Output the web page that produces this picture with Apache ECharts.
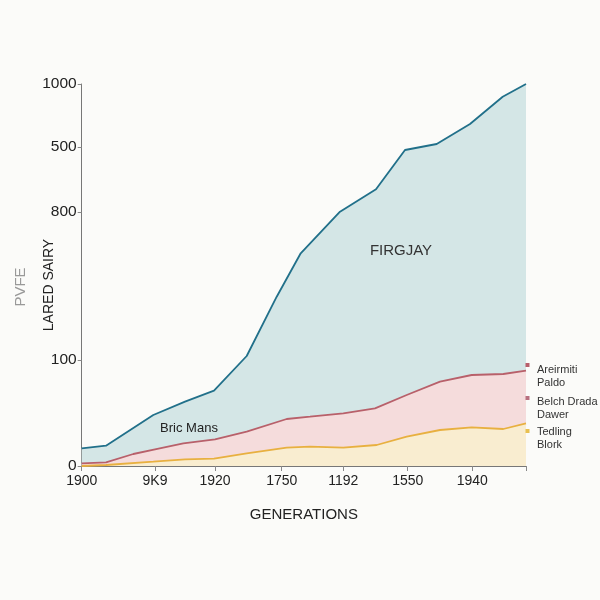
<!DOCTYPE html>
<html>
<head>
<meta charset="utf-8">
<script src="https://cdn.jsdelivr.net/npm/echarts@6/dist/echarts.min.js"></script>
<style>html,body{margin:0;padding:0;background:#fbfbf9;}#c{width:600px;height:600px;}</style>
</head>
<body>
<div id="c"></div>
<script>
// x positions (axis units) and tick labels
const xTickPos = [0, 73.3, 133.3, 200, 261.6, 326, 390.6, 444.3];
const xTickLabels = ['1900', '9K9', '1920', '1750', '1192', '1550', '1940', ''];
const yTickPos = [0, 106, 254, 319, 382];
const yTickLabels = ['0', '100', '800', '500', '1000'];

const firgjay = [[0,17.7],[24.3,20.3],[71.6,51],[103.3,64.3],[132.3,75.3],[165,110],[195,169.3],[219,212.7],[258.3,254.3],[294.3,276.7],[323.3,316],[355,322],[388.3,342],[421,369.3],[444.3,382]];
const bricMans = [[0,2.7],[24.3,3.7],[51.6,12],[73.3,16.7],[101.6,22.7],[133.3,26.7],[165,34.3],[205,47],[228.3,49.3],[261.6,52.7],[293.3,57.7],[325,71],[358.3,84.3],[390,91],[421.6,92],[444.3,95.3]];
const tedling = [[0,0],[24.3,1],[71.6,4.3],[103.3,6.7],[132.3,7.3],[165,12.7],[205,18.3],[228.3,19.3],[261.6,18.3],[295,21],[325,29.3],[358.3,36],[390,38.7],[421.6,37],[444.3,42.7]];

const legendNames = ['Areirmiti\nPaldo', 'Belch Drada\nDawer', 'Tedling\nBlork'];
const legendColors = ['#b85f6b', '#b87080', '#e8c050'];

const chart = echarts.init(document.getElementById('c'));
function mkSeries(name, data, line, fill) {
  return {
    type: 'line', name: name, data: data, symbol: 'none', smooth: false,
    lineStyle: {color: line, width: 1.8}, itemStyle: {color: line},
    areaStyle: {color: fill, opacity: 1}, z: 2
  };
}
chart.setOption({
  backgroundColor: '#fbfbf9',
  animation: false,
  grid: {left: 81.7, right: 74, top: 84, bottom: 134},
  xAxis: {
    type: 'value', min: 0, max: 444.3,
    axisLine: {show: true, lineStyle: {color: '#777', width: 1}},
    axisTick: {show: true, customValues: xTickPos, length: 5, lineStyle: {color: '#888'}},
    axisLabel: {customValues: xTickPos, color: '#222', fontSize: 14, margin: 8,
      fontFamily: 'Liberation Sans, Arial',
      formatter: function (v) { const i = xTickPos.indexOf(v); return i >= 0 ? xTickLabels[i] : ''; }},
    splitLine: {show: false},
    name: 'GENERATIONS', nameLocation: 'middle', nameGap: 41, nameMoveOverlap: false,
    nameTextStyle: {color: '#222', fontSize: 15, fontFamily: 'Liberation Sans, Arial'}
  },
  yAxis: {
    type: 'value', min: 0, max: 382,
    axisLine: {show: true, lineStyle: {color: '#777', width: 1}},
    axisTick: {show: true, customValues: yTickPos, length: 4, lineStyle: {color: '#888'}},
    axisLabel: {customValues: yTickPos, color: '#222', fontSize: 15.5, margin: 5,
      fontFamily: 'Liberation Sans, Arial',
      formatter: function (v) { const i = yTickPos.indexOf(v); return i >= 0 ? yTickLabels[i] : ''; }},
    splitLine: {show: false},
    name: 'LARED SAIRY', nameLocation: 'middle', nameGap: 26, nameRotate: 90, nameMoveOverlap: false,
    nameTextStyle: {color: '#222', fontSize: 14, fontFamily: 'Liberation Sans, Arial', padding: [0, 20, 0, 0]}
  },
  series: [
    mkSeries('FIRGJAY', firgjay, '#21708a', '#d4e6e6'),
    mkSeries('Bric Mans', bricMans, '#b8606a', '#f5dcdc'),
    mkSeries('Tedling', tedling, '#e8b040', '#f9edd0')
  ],
  graphic: [
    {type: 'text', style: {text: 'FIRGJAY', x: 401, y: 251, fill: '#333', fontSize: 15, fontFamily: 'Liberation Sans, Arial', align: 'center', verticalAlign: 'middle'}, z: 10},
    {type: 'text', style: {text: 'Bric Mans', x: 189, y: 428, fill: '#222', fontSize: 13, fontFamily: 'Liberation Sans, Arial', align: 'center', verticalAlign: 'middle'}, z: 10},
    {type: 'text', style: {text: 'PVFE', x: 0, y: 0, fill: '#999', fontSize: 15, fontFamily: 'Liberation Sans, Arial', align: 'center', verticalAlign: 'middle'}, x: 21, y: 287, rotation: Math.PI / 2, z: 10},
    {type: 'rect', shape: {x: 525.5, y: 363, width: 4, height: 4}, style: {fill: legendColors[0]}, z: 10},
    {type: 'rect', shape: {x: 525.5, y: 396, width: 4, height: 4}, style: {fill: legendColors[1]}, z: 10},
    {type: 'rect', shape: {x: 525.5, y: 429, width: 4, height: 4}, style: {fill: legendColors[2]}, z: 10},
    {type: 'text', style: {text: legendNames[0], x: 537, y: 363, fill: '#333', fontSize: 11, lineHeight: 13, fontFamily: 'Liberation Sans, Arial'}, z: 10},
    {type: 'text', style: {text: legendNames[1], x: 537, y: 395, fill: '#333', fontSize: 11, lineHeight: 13, fontFamily: 'Liberation Sans, Arial'}, z: 10},
    {type: 'text', style: {text: legendNames[2], x: 537, y: 425, fill: '#333', fontSize: 11, lineHeight: 13, fontFamily: 'Liberation Sans, Arial'}, z: 10}
  ]
});
</script>
</body>
</html>
